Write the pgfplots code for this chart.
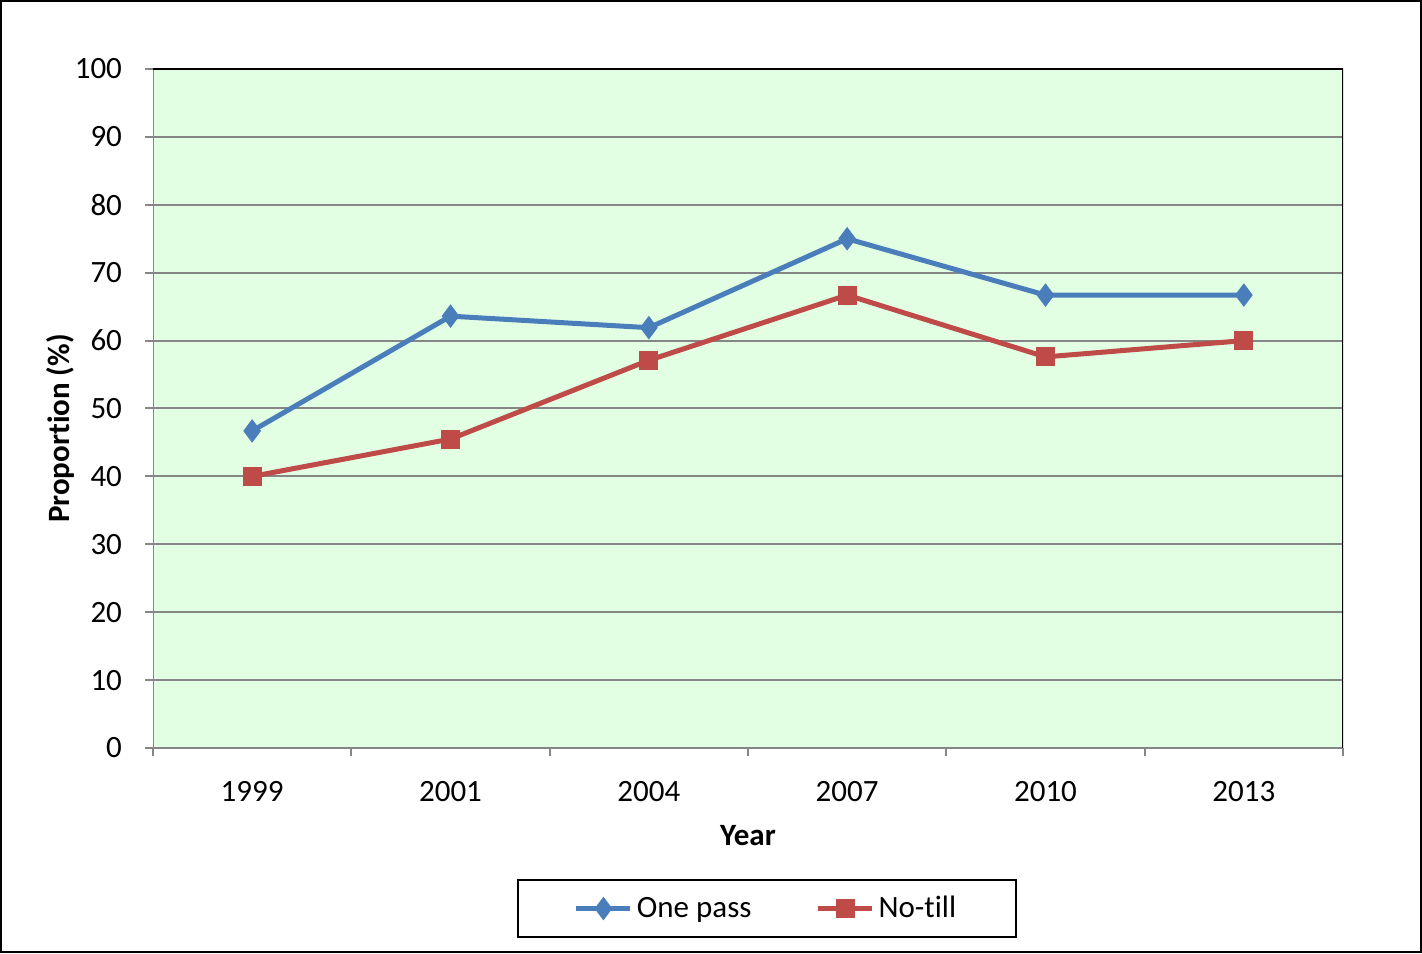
\documentclass[border=0pt]{standalone}
\usepackage{fontspec}
\setmainfont{Carlito}[Ligatures=NoCommon]
\usepackage{pgfplots}
\pgfplotsset{compat=1.18}
\definecolor{bgreen}{HTML}{E3FFE3}
\definecolor{lblue}{HTML}{4A7EBB}
\definecolor{lred}{HTML}{BE4B48}
\definecolor{gline}{HTML}{868686}
\begin{document}
\begin{tikzpicture}[x=1pt,y=1pt]
\draw[line width=1pt] (0.5,0.5) rectangle (710.5,476);
\begin{axis}[
  at={(76.5pt,102.5pt)}, anchor=south west,
  scale only axis, width=595pt, height=339.5pt,
  xmin=-0.5, xmax=5.5, ymin=0, ymax=100,
  xtick={0,...,5}, xticklabels={1999,2001,2004,2007,2010,2013},
  minor xtick={-0.5,0.5,...,5.5},
  ytick={0,10,...,100},
  tick align=outside, tick pos=left,
  major tick length=4pt, minor tick length=4pt,
  x tick style={draw=none}, minor x tick style={draw=gline, line width=1pt},
  y tick style={draw=gline, line width=1pt},
  ymajorgrids, grid style={gline, line width=1pt},
  axis line style={draw=none},
  axis background/.style={fill=bgreen},
  tick label style={font=\fontsize{15.5}{18}\selectfont},
  /pgf/number format/assume math mode=true,
  yticklabel style={xshift=-8pt},
  xticklabel style={yshift=-9pt},
  xlabel={\textbf{Year}}, ylabel={\textbf{Proportion (\%)}},
  label style={font=\fontsize{15.5}{18}\selectfont},
  xlabel style={yshift=-5pt},
  ylabel style={yshift=-6.5pt, xshift=-10pt},
  legend columns=2,
  legend style={at={(0.516,-0.2364)}, anchor=center, draw=black, line width=0.8pt,
    font=\fontsize{15.5}{18}\selectfont, inner xsep=28pt, inner ysep=6pt,
    /tikz/every even column/.append style={column sep=30pt}},
  legend cell align=left,
  legend image code/.code={
    \draw[#1, mark=none] (0pt,0pt) -- (27pt,0pt);
    \draw[#1, only marks] plot coordinates {(13.5pt,0pt)};
  },
]
\addplot[lblue, line width=2.5pt, mark=diamond*, mark size=5.5pt, mark options={line width=0.5pt, fill=lblue}]
  coordinates {(0,46.7) (1,63.6) (2,61.9) (3,75.0) (4,66.7) (5,66.7)};
\addlegendentry{One pass}
\addplot[lred, line width=2.5pt, mark=square*, mark size=4.5pt, mark options={line width=0.5pt, fill=lred}]
  coordinates {(0,40.0) (1,45.5) (2,57.1) (3,66.7) (4,57.6) (5,60.0)};
\addlegendentry{No-till}
\draw[gline, line width=1pt] (rel axis cs:0,1) -- (rel axis cs:0,0) -- (rel axis cs:1,0);
\draw[black, line width=1pt] (rel axis cs:0,1) -- (rel axis cs:1,1) -- (rel axis cs:1,0);
\end{axis}
\end{tikzpicture}
\end{document}
